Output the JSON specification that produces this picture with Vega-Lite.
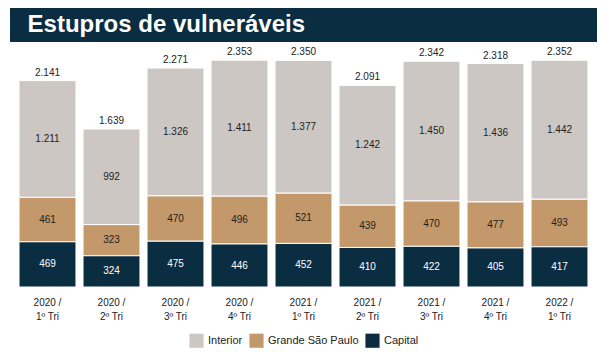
{
  "$schema": "https://vega.github.io/schema/vega-lite/v6.json",
  "background": "white",
  "padding": {"left": 10, "top": 8, "right": 12, "bottom": 2},
  "spacing": 4,
  "center": true,
  "config": {
    "locale": {"number": {"decimal": ",", "thousands": ".", "grouping": [3], "currency": ["R$", ""]}},
    "view": {"stroke": null},
    "font": "Liberation Sans",
    "legend": {"layout": {"bottom": {"anchor": "middle"}}}
  },
  "datasets": {
    "main": [
      {"period": "2020 / 1º Tri", "cat": "Interior", "value": 1211},
      {"period": "2020 / 1º Tri", "cat": "Grande São Paulo", "value": 461},
      {"period": "2020 / 1º Tri", "cat": "Capital", "value": 469},
      {"period": "2020 / 2º Tri", "cat": "Interior", "value": 992},
      {"period": "2020 / 2º Tri", "cat": "Grande São Paulo", "value": 323},
      {"period": "2020 / 2º Tri", "cat": "Capital", "value": 324},
      {"period": "2020 / 3º Tri", "cat": "Interior", "value": 1326},
      {"period": "2020 / 3º Tri", "cat": "Grande São Paulo", "value": 470},
      {"period": "2020 / 3º Tri", "cat": "Capital", "value": 475},
      {"period": "2020 / 4º Tri", "cat": "Interior", "value": 1411},
      {"period": "2020 / 4º Tri", "cat": "Grande São Paulo", "value": 496},
      {"period": "2020 / 4º Tri", "cat": "Capital", "value": 446},
      {"period": "2021 / 1º Tri", "cat": "Interior", "value": 1377},
      {"period": "2021 / 1º Tri", "cat": "Grande São Paulo", "value": 521},
      {"period": "2021 / 1º Tri", "cat": "Capital", "value": 452},
      {"period": "2021 / 2º Tri", "cat": "Interior", "value": 1242},
      {"period": "2021 / 2º Tri", "cat": "Grande São Paulo", "value": 439},
      {"period": "2021 / 2º Tri", "cat": "Capital", "value": 410},
      {"period": "2021 / 3º Tri", "cat": "Interior", "value": 1450},
      {"period": "2021 / 3º Tri", "cat": "Grande São Paulo", "value": 470},
      {"period": "2021 / 3º Tri", "cat": "Capital", "value": 422},
      {"period": "2021 / 4º Tri", "cat": "Interior", "value": 1436},
      {"period": "2021 / 4º Tri", "cat": "Grande São Paulo", "value": 477},
      {"period": "2021 / 4º Tri", "cat": "Capital", "value": 405},
      {"period": "2022 / 1º Tri", "cat": "Interior", "value": 1442},
      {"period": "2022 / 1º Tri", "cat": "Grande São Paulo", "value": 493},
      {"period": "2022 / 1º Tri", "cat": "Capital", "value": 417}
    ]
  },
  "vconcat": [
    {
      "width": 587,
      "height": 34,
      "view": {"fill": "#0b2d41", "stroke": null},
      "data": {"values": [{"title": "Estupros de vulneráveis"}]},
      "mark": {"type": "text", "align": "left", "baseline": "middle", "color": "white", "font": "Liberation Sans", "fontWeight": "bold", "fontSize": 24},
      "encoding": {
        "x": {"datum": 0.03, "type": "quantitative", "scale": {"domain": [0, 1]}, "axis": null},
        "y": {"datum": 0.5, "type": "quantitative", "scale": {"domain": [0, 1]}, "axis": null},
        "text": {"field": "title"}
      }
    },
    {
      "width": 576,
      "height": 241,
      "data": {"name": "main"},
      "transform": [
        {"stack": "value", "groupby": ["period"], "sort": [{"field": "cat", "order": "ascending"}], "as": ["y0", "y1"]},
        {"calculate": "(datum.y0 + datum.y1) / 2", "as": "mid"}
      ],
      "encoding": {
        "x": {
          "field": "period", "type": "nominal", "sort": null,
          "scale": {"paddingInner": 0.11, "paddingOuter": 0.055},
          "axis": {
            "title": null, "domain": false, "ticks": false, "labelAngle": 0,
            "labelFontSize": 10, "labelColor": "#222", "labelPadding": 10, "labelLineHeight": 14,
            "labelExpr": "[slice(datum.label, 0, 6), slice(datum.label, 7)]"
          }
        }
      },
      "layer": [
        {
          "mark": {"type": "bar", "stroke": "white", "strokeWidth": 1},
          "encoding": {
            "y": {"field": "y0", "type": "quantitative", "scale": {"domain": [0, 2500], "nice": false}, "axis": null},
            "y2": {"field": "y1"},
            "color": {
              "field": "cat", "type": "nominal",
              "scale": {"domain": ["Interior", "Grande São Paulo", "Capital"], "range": ["#cdc7c3", "#c3996b", "#0b2d41"]},
              "legend": {"title": null, "orient": "bottom", "direction": "horizontal", "symbolType": "square", "symbolSize": 200, "symbolStrokeWidth": 0, "labelFontSize": 11, "labelColor": "#222", "columnPadding": 6, "offset": 12}
            }
          }
        },
        {
          "mark": {"type": "text", "fontSize": 10, "baseline": "middle"},
          "encoding": {
            "y": {"field": "mid", "type": "quantitative"},
            "text": {"field": "value", "type": "quantitative", "format": ",d"},
            "color": {"condition": {"test": "datum.cat === 'Capital'", "value": "white"}, "value": "#222"}
          }
        },
        {
          "transform": [{"aggregate": [{"op": "sum", "field": "value", "as": "total"}], "groupby": ["period"]}],
          "mark": {"type": "text", "fontSize": 10, "baseline": "bottom", "dy": -3, "color": "#222"},
          "encoding": {
            "y": {"field": "total", "type": "quantitative"},
            "text": {"field": "total", "type": "quantitative", "format": ",d"}
          }
        }
      ]
    }
  ]
}
